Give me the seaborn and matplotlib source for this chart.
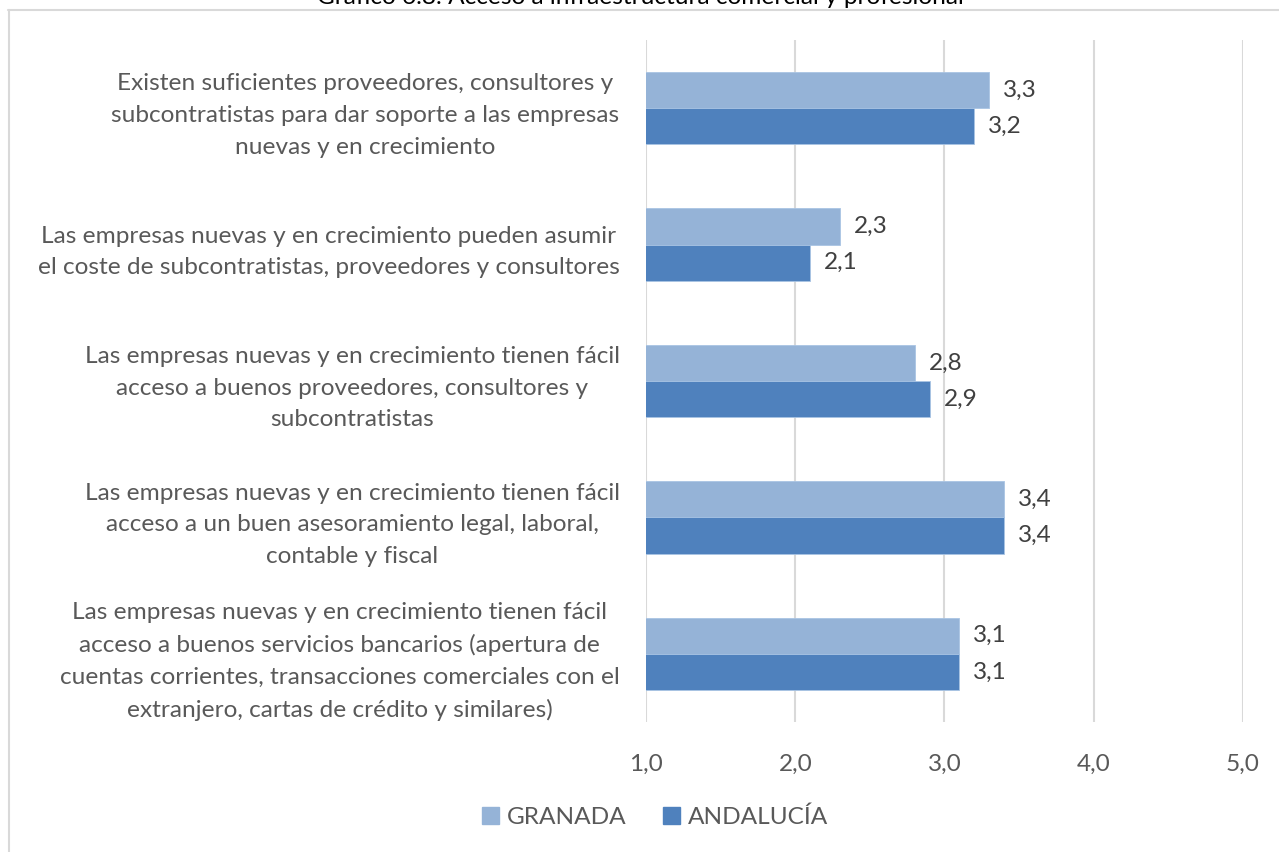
import matplotlib
matplotlib.use("Agg")
import matplotlib.pyplot as plt
from matplotlib.lines import Line2D
import seaborn as sns
import pandas as pd

# Survey items (expert ratings, scale 1-5)
categories = [
    "Existen suficientes proveedores, consultores y\nsubcontratistas para dar soporte a las empresas\nnuevas y en crecimiento",
    "Las empresas nuevas y en crecimiento pueden asumir\nel coste de subcontratistas, proveedores y consultores",
    "Las empresas nuevas y en crecimiento tienen fácil\nacceso a buenos proveedores, consultores y\nsubcontratistas",
    "Las empresas nuevas y en crecimiento tienen fácil\nacceso a un buen asesoramiento legal, laboral,\ncontable y fiscal",
    "Las empresas nuevas y en crecimiento tienen fácil\nacceso a buenos servicios bancarios (apertura de\ncuentas corrientes, transacciones comerciales con el\nextranjero, cartas de crédito y similares)",
]
granada = [3.3, 2.3, 2.8, 3.4, 3.1]
andalucia = [3.2, 2.1, 2.9, 3.4, 3.1]
series_names = ["GRANADA", "ANDALUCÍA"]
x_ticks = [1.0, 2.0, 3.0, 4.0, 5.0]
title = "Gráfico 6.8: Acceso a infraestructura comercial y profesional"

df = pd.DataFrame({
    "item": categories * 2,
    "valor": granada + andalucia,
    "zona": [series_names[0]] * len(categories) + [series_names[1]] * len(categories),
})

sns.set_theme(style="white")
plt.rcParams["font.family"] = ["Lato", "DejaVu Sans"]

text_col = "#595959"
fs = 17.6

fig = plt.figure(figsize=(12.79, 8.52), dpi=100)
ax = fig.add_axes([646 / 1279, 1 - 722 / 852, (1243 - 646) / 1279, (722 - 40) / 852])

palette = {series_names[0]: "#95B3D7", series_names[1]: "#4F81BD"}
sns.barplot(data=df, y="item", x="valor", hue="zona", hue_order=series_names,
            order=categories, palette=palette, orient="h", width=0.53,
            saturation=1, edgecolor="#A9C4E4", linewidth=0.6, ax=ax,
            legend=False, zorder=3)

ax.set_xlim(1, 5)
ax.set_ylim(4.5, -0.5)
ax.set_xticks(x_ticks)
ax.set_xticklabels([f"{v:.1f}".replace(".", ",") for v in x_ticks],
                   fontsize=fs, color=text_col)
ax.tick_params(axis="x", length=0, pad=23)
ax.tick_params(axis="y", length=0, pad=19)
for lab in ax.get_yticklabels():
    lab.set_fontsize(fs)
    lab.set_color(text_col)
    lab.set_multialignment("center")
    lab.set_linespacing(1.62)
ax.set_xlabel("")
ax.set_ylabel("")
for s in ax.spines.values():
    s.set_visible(False)
ax.grid(axis="x", color="#D9D9D9", linewidth=1.5, zorder=0)
ax.grid(axis="y", visible=False)

for cont in ax.containers:
    ax.bar_label(cont, labels=[f"{w:.1f}".replace(".", ",") for w in cont.datavalues],
                 padding=10, fontsize=fs, color="#404040")

handles = [plt.Rectangle((0, 0), 1, 1, color=palette[n]) for n in series_names]
fig.legend(handles, series_names, loc="center", ncol=2, frameon=False,
           bbox_to_anchor=(655 / 1279, 1 - 817 / 852), fontsize=fs,
           labelcolor=text_col, handlelength=0.7, handleheight=0.7,
           handletextpad=0.3, columnspacing=1.5)

# chart frame and clipped heading
fig.add_artist(Line2D([8 / 1279, 1], [1 - 10 / 852] * 2, color="#D9D9D9", lw=1.5))
fig.add_artist(Line2D([8.5 / 1279] * 2, [0, 1 - 10 / 852], color="#D9D9D9", lw=1.5))
fig.text(640 / 1279, 1 - 4 / 852, title, ha="center", va="baseline",
         fontsize=fs, color="black")

fig.savefig("out.png", dpi=100, facecolor="white")
